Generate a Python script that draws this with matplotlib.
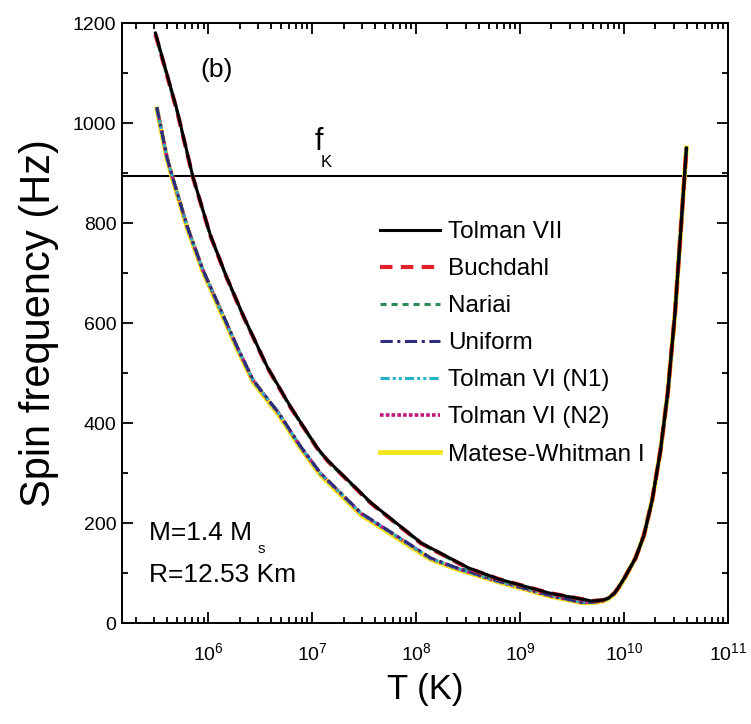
import matplotlib
matplotlib.use("Agg")
import matplotlib.pyplot as plt
from matplotlib import font_manager
from matplotlib.ticker import MultipleLocator, LogLocator, NullFormatter
import numpy as np

def pick(fams):
    for f in fams:
        try:
            font_manager.findfont(f, fallback_to_default=False)
            return f
        except Exception:
            pass
    return "DejaVu Sans"

REG = pick(["Liberation Sans", "Arial"])
plt.rcParams["font.family"] = [REG, "DejaVu Sans"]
plt.rcParams["mathtext.fontset"] = "custom"
plt.rcParams["mathtext.rm"] = REG
plt.rcParams["mathtext.it"] = REG
plt.rcParams["mathtext.default"] = "regular"

# ---- data ----
# upper group (Tolman VII, Buchdahl, Nariai)
T_upper = [3.1e5, 5.0e5, 7.1e5, 1.05e6, 1.5e6, 2.2e6, 3.7e6, 6.2e6, 1.12e7, 1.41e7,
           3.7e7, 1.12e8, 3.2e8, 6.2e8, 1.9e9, 4.9e9, 6.3e9, 7.1e9, 8.1e9, 8.9e9,
           1.02e10, 1.29e10, 1.55e10, 1.86e10, 2.24e10, 2.63e10, 3.09e10, 3.55e10,
           3.98e10]
tolman7 = [1180, 1026, 893, 775, 692, 612, 512, 432, 350, 325,
           240, 160, 110, 88, 60, 44, 46, 50, 60, 72,
           92, 130, 175, 245, 345, 460, 620, 800, 950]
buchdahl = [1178, 1024, 892, 774, 691, 611, 511, 431, 349, 324,
            239, 159, 109, 88, 60, 44, 46, 50, 60, 72,
            92, 130, 175, 245, 345, 460, 620, 800, 950]
nariai = [1176, 1023, 891, 773, 690, 610, 510, 430, 348, 323,
          238, 158, 108, 87, 59, 44, 46, 50, 60, 72,
          92, 130, 175, 245, 345, 460, 620, 800, 950]
# lower group (Uniform, Tolman VI N1/N2, Matese-Whitman I)
T_lower = [3.2e5, 4.0e5, 4.5e5, 6.3e5, 8.9e5, 1.32e6, 1.9e6, 2.7e6, 4.0e6, 4.7e6,
           7.8e6, 1.2e7, 2.95e7, 8.3e7, 1.38e8, 2.34e8, 6.2e8, 1.9e9, 4.0e9, 5.2e9,
           6.3e9, 7.1e9, 8.1e9, 8.9e9, 1.02e10, 1.29e10, 1.55e10, 1.86e10, 2.24e10,
           2.63e10, 3.09e10, 3.55e10, 3.98e10]
uniform = [1032, 932, 894, 792, 706, 626, 552, 486, 440, 422,
           352, 300, 220, 160, 130, 112, 84, 56, 41, 42,
           45, 50, 60, 72, 92, 130, 175, 245, 345,
           460, 620, 800, 950]
tolman6_n1 = [1030, 930, 893, 791, 705, 625, 551, 485, 439, 421,
              351, 299, 219, 159, 129, 111, 83, 56, 41, 42,
              45, 50, 60, 72, 92, 130, 175, 245, 345,
              460, 620, 800, 950]
tolman6_n2 = [1031, 931, 893, 791, 705, 625, 551, 485, 439, 421,
              351, 299, 219, 159, 129, 111, 83, 55, 41, 42,
              45, 50, 60, 72, 92, 130, 175, 245, 345,
              460, 620, 800, 950]
matese = [1028, 928, 890, 788, 702, 622, 548, 482, 436, 418,
          348, 296, 216, 156, 127, 109, 82, 54, 40, 41,
          44, 49, 59, 71, 91, 130, 175, 245, 345,
          460, 620, 800, 950]
f_kepler = 894

fig = plt.figure(figsize=(7.51, 7.24), dpi=100)
ax = fig.add_axes([0.1625, 0.1395, 0.8069, 0.8287])

ax.plot(T_lower, matese, color="#f2e51a", lw=3.4, ls="-", label="Matese-Whitman I", zorder=2)
ax.plot(T_lower, tolman6_n2, color="#c4127d", lw=2.6, ls=(0, (1, 0.6)), label="Tolman VI (N2)", zorder=3)
ax.plot(T_lower, tolman6_n1, color="#22b3c8", lw=2.2, ls=(0, (3, 1, 1, 1, 1, 1)), label="Tolman VI (N1)", zorder=4)
ax.plot(T_lower, uniform, color="#2d2d7a", lw=2.2, ls=(0, (4, 1.5, 1, 1.5)), label="Uniform", zorder=5)
ax.plot(T_upper, nariai, color="#2e8b57", lw=2.2, ls=(0, (2, 1.6)), label="Nariai", zorder=6)
ax.plot(T_upper, buchdahl, color="#e0202a", lw=3.0, ls=(0, (3, 2)), label="Buchdahl", zorder=7)
ax.plot(T_upper, tolman7, color="black", lw=2.2, ls="-", label="Tolman VII", zorder=8)

ax.axhline(f_kepler, color="black", lw=1.5, zorder=1)

ax.set_xscale("log")
ax.set_xlim(10**5.17, 1e11)
ax.set_ylim(0, 1200)
ax.yaxis.set_major_locator(MultipleLocator(200))
ax.yaxis.set_minor_locator(MultipleLocator(100))
ax.xaxis.set_major_locator(LogLocator(base=10, numticks=20))
ax.xaxis.set_minor_locator(LogLocator(base=10, subs=np.arange(2, 10), numticks=100))
ax.xaxis.set_minor_formatter(NullFormatter())
ax.tick_params(which="both", direction="in", top=True, right=True, labelsize=14, width=1.3)
ax.tick_params(which="major", length=8)
ax.tick_params(which="minor", length=4)
ax.tick_params(axis="x", pad=14)
ax.tick_params(axis="y", pad=4)
for s in ax.spines.values():
    s.set_linewidth(1.4)

ax.set_xlabel("T (K)", fontsize=25, labelpad=6)
ax.set_ylabel("Spin frequency (Hz)", fontsize=30, labelpad=10)

ax.text(10**5.92, 1106, "(b)", fontsize=19, ha="left", va="center")
ax.text(10**7.02, 962, "f", fontsize=22, ha="left", va="center")
ax.text(10**7.08, 922, "K", fontsize=12, ha="left", va="center")
ax.text(10**5.43, 180, "M=1.4 M", fontsize=19, ha="left", va="center")
ax.text(10**6.47, 148, "s", fontsize=11, ha="left", va="center")
ax.text(10**5.43, 96, "R=12.53 Km", fontsize=19, ha="left", va="center")

handles, labels = ax.get_legend_handles_labels()
order = ["Tolman VII", "Buchdahl", "Nariai", "Uniform", "Tolman VI (N1)", "Tolman VI (N2)", "Matese-Whitman I"]
hmap = dict(zip(labels, handles))
leg = ax.legend([hmap[k] for k in order], order, loc="upper left",
                bbox_to_anchor=(0.425, 0.67), frameon=False, fontsize=17.5,
                handlelength=2.5, handletextpad=0.3, labelspacing=0.62,
                borderaxespad=0, borderpad=0)

fig.savefig("out.png", dpi=100)
